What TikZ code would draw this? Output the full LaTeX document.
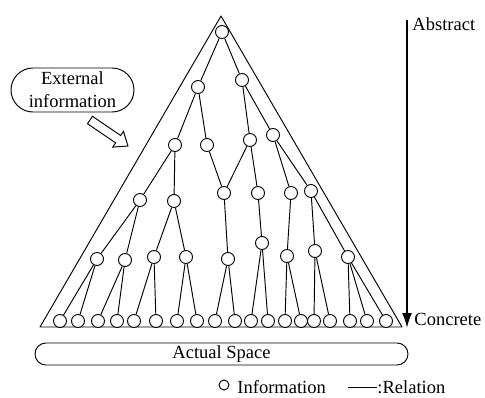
\documentclass[tikz,border=0pt]{standalone}
\usepackage{fontspec}
\setmainfont{Liberation Serif}
\usetikzlibrary{arrows.meta,shapes.misc}
\tikzset{info/.style={circle,draw,fill=white,inner sep=0pt,minimum size=13pt},
  pill/.style={rounded rectangle,draw,inner sep=0pt},
  lbl/.style={font=\fontsize{18.5}{23}\selectfont,inner sep=0pt}}
\begin{document}
\begin{tikzpicture}[x=1pt,y=-1pt,line width=0.95pt]
\useasboundingbox (0,0) rectangle (485,397);
\coordinate (A) at (221,16); \coordinate (B) at (40,327); \coordinate (C) at (402,327);
\draw[line join=round] (A)--(B)--(C)--cycle;
\node[info] (t) at (222,32) {};
\node[info] (a1) at (198,87) {}; \node[info] (a2) at (242,80) {};
\node[info] (b1) at (175,145) {}; \node[info] (b2) at (207,145) {};
\node[info] (b3) at (250,140) {}; \node[info] (b4) at (273,135) {};
\node[info] (c1) at (140,200) {}; \node[info] (c2) at (174,201) {};
\node[info] (c3) at (224,193) {}; \node[info] (c4) at (258,193) {};
\node[info] (c5) at (291,193) {}; \node[info] (c6) at (311,191) {};
\foreach \x/\y [count=\i] in {97/259,125/260,154/257,186/257,228/259,262/243,287/256,315/251,348/257}
  \node[info] (d\i) at (\x,\y) {};
\foreach \x [count=\i] in {60,78,98,117,134,156,177,197,215,235,251,268,285,301,314,330,350,367,386}
  \node[info] (e\i) at (\x,321) {};
\foreach \u/\v in {t/a1,t/a2,a1/b1,a1/b2,a2/b3,a2/b4,b1/c1,b1/c2,b2/c3,b3/c3,b3/c4,b4/c5,b4/c6,
  c1/d1,c1/d2,c2/d3,c2/d4,c3/d5,c4/d6,c5/d7,c6/d8,c6/d9,d1/e1,d1/e2,d2/e3,d2/e4,d3/e5,d3/e6,
  d4/e7,d4/e8,d5/e9,d5/e10,d6/e11,d6/e12,d7/e13,d7/e14,d8/e15,d8/e16,d9/e17,d9/e18,d9/e19}
  \draw (\u)--(\v);
\node[pill,lbl,align=center,minimum width=123pt,minimum height=44pt] (ext) at (72.5,90) {External\\information};
\draw[line join=miter] (87.5,123.7)--(115.6,142.9)--(112.7,147.1)--(128,146)--(123.5,131.4)--(120.6,135.5)--(92.5,116.3)--cycle;
\node[pill,lbl,minimum width=373pt,minimum height=22pt] (space) at (221.5,354) {Actual Space};
\coordinate (top) at (407,20); \coordinate (bot) at (407,328);
\draw[line width=2pt,-{Latex[length=15pt,width=10pt]}] (top)--(bot);
\node[lbl,anchor=base west] (abs) at (412,30) {Abstract};
\node[lbl,anchor=base west] (con) at (414,325) {Concrete};
\node[circle,draw,inner sep=0pt,minimum size=10pt] (lgc) at (224,385) {};
\node[lbl,anchor=base west] (lgi) at (237,393) {Information};
\coordinate (l1) at (348,387); \coordinate (l2) at (377,387);
\draw (l1)--(l2);
\node[lbl,anchor=base west] (lgr) at (377,393) {:Relation};
\end{tikzpicture}
\end{document}
